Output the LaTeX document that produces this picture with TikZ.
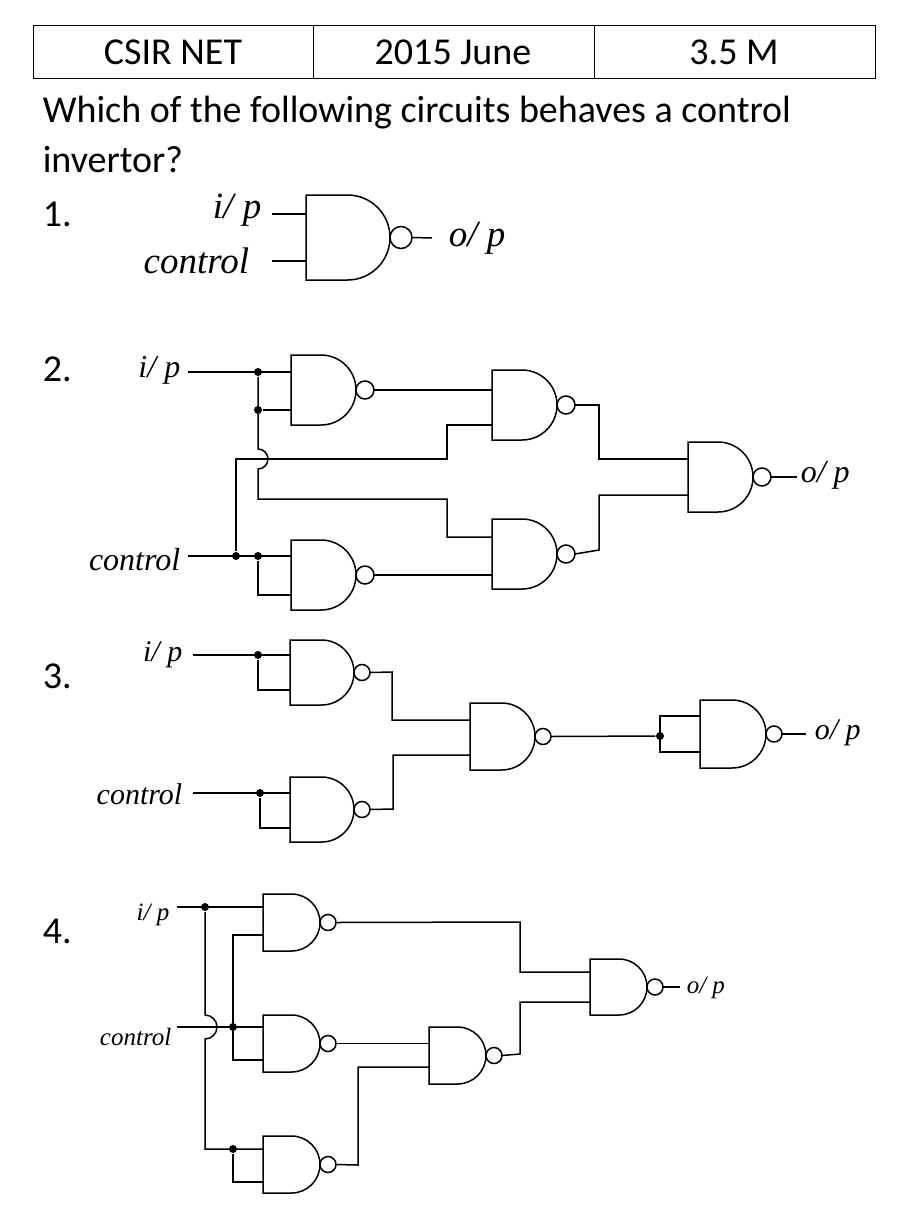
\documentclass[tikz,border=0pt]{standalone}
\usepackage{fontspec}
\setmainfont{Carlito}
\newfontfamily\lab{Liberation Serif}
\begin{document}
\begin{tikzpicture}[x=1pt,y=-1pt,line width=1.5pt,
  dot/.style={circle,fill=black,inner sep=0pt,minimum size=8pt},
  ttl/.style={font=\fontsize{38}{40}\selectfont},
  lbl/.style={font=\lab\itshape\fontsize{#1}{#1}\selectfont,inner sep=0pt},
  lbl/.default=26]
\useasboundingbox (0,0) rectangle (907,1210);
% gate: name, x, top, H, W(body), rb, in1y, in2y
\newcommand\mygate[8]{%
  \pgfmathsetmacro\gf{#5-#4/2}\pgfmathsetmacro\gr{#4/2}%
  \draw (#2+\gf,#3) -- (#2,#3) -- (#2,#3+#4) -- (#2+\gf,#3+#4) arc(90:-90:\gr) -- cycle;
  \draw (#2+#5+#6,#3+\gr) circle (#6);
  \coordinate (#1-a) at (#2,#7);
  \coordinate (#1-b) at (#2,#8);
  \coordinate (#1-o) at (#2+#5+2*#6,#3+\gr);}
% header table
\draw[line width=1pt] (33,25) rectangle (875,78) (313,25) -- (313,78) (594,25) -- (594,78);
\node[ttl] (h1) at (173,52) {CSIR NET};
\node[ttl] (h2) at (453,52) {2015 June};
\node[ttl] (h3) at (734,52) {3.5 M};
\node[ttl,anchor=base west,inner sep=0pt] (q1) at (42,122) {Which of the following circuits behaves a control};
\node[ttl,anchor=base west,inner sep=0pt] (q2) at (42,172) {invertor?};
\node[ttl,anchor=base west,inner sep=0pt] (n1) at (42,226) {1.};
\node[ttl,anchor=base west,inner sep=0pt] (n2) at (42,381) {2.};
\node[ttl,anchor=base west,inner sep=0pt] (n3) at (42,688) {3.};
\node[ttl,anchor=base west,inner sep=0pt] (n4) at (42,943) {4.};
% ---------- circuit 1
\mygate{g1}{306}{195}{85}{84}{11}{214}{261}
\node[lbl=37,anchor=east] (i1) at (262,210) {i/ p};
\node[lbl=37,anchor=east] (c1) at (250,261) {control};
\node[lbl=37,anchor=west] (o1) at (448,238) {o/ p};
\coordinate (i1e) at (272,214); \coordinate (c1e) at (272,261); \coordinate (o1s) at (432,238);
\draw (i1e) -- (g1-a); \draw (c1e) -- (g1-b); \draw (g1-o) -- (o1s);
% ---------- circuit 2
\mygate{A}{291}{355}{70}{65}{9}{372}{410}
\mygate{B}{492}{370}{70}{65}{9}{386}{425}
\mygate{C}{688}{442}{70}{65}{9}{459}{495}
\mygate{D}{492}{519}{70}{65}{9}{537}{571}
\mygate{E}{291}{540}{70}{65}{9}{556}{595}
\node[lbl=32,anchor=east] (i2) at (181,370) {i/ p};
\node[lbl=32,anchor=east] (c2) at (181,560) {control};
\node[lbl=32,anchor=west] (o2) at (800,475) {o/ p};
\coordinate (i2e) at (188,372); \coordinate (c2e) at (188,556);
\draw (i2e) -- (A-a);
\node[dot] (d21) at (258,372) {}; \node[dot] (d22) at (258,410) {};
\draw (d22) -- (A-b);
\draw (d21) -- (258,449) arc(-90:90:10) -- (258,499) -- (447,499) -- (447,537) -- (D-a);
\draw (A-o) -- (A-o -| B-a);
\draw (c2e) -- (E-a);
\node[dot] (d23) at (236,556) {}; \node[dot] (d24) at (258,556) {};
\draw (d23) -- (236,459) -- (447,459) -- (447,425) -- (B-b);
\draw (d24) -- (258,595) -- (E-b);
\draw (E-o) -- (E-o -| D-b);
\draw (B-o) -- (599,405) -- (599,459) -- (C-a);
\draw (D-o) -- (599,550) -- (599,495) -- (C-b);
\draw (C-o) -- (797,477);
% ---------- circuit 3
\mygate{F}{290}{640}{65}{64}{8}{655}{690}
\mygate{G}{290}{777}{65}{64}{8}{793}{828}
\mygate{H}{470}{703}{67}{65}{8}{720}{755}
\mygate{K}{700}{700}{68}{66}{8}{716}{752}
\node[lbl=30,anchor=east] (i3) at (183,655) {i/ p};
\node[lbl=30,anchor=east] (c3) at (183,794) {control};
\node[lbl=30,anchor=west] (o3) at (814,733) {o/ p};
\coordinate (i3e) at (193,655); \coordinate (c3e) at (193,793);
\draw (i3e) -- (F-a); \node[dot] (d31) at (258,655) {};
\draw (d31) -- (258,690) -- (F-b);
\draw (c3e) -- (G-a); \node[dot] (d32) at (260,793) {};
\draw (d32) -- (260,828) -- (G-b);
\draw (F-o) -- (392,672) -- (392,720) -- (H-a);
\draw (G-o) -- (393,809) -- (393,755) -- (H-b);
\node[dot] (d33) at (660,736) {};
\draw (H-o) -- (d33);
\draw (K-a) -- (660,716) -- (660,752) -- (K-b);
\draw (K-o) -- (806,734);
% ---------- circuit 4
\mygate{P}{263}{894}{57}{57}{8}{907}{935}
\mygate{Q}{263}{1015}{57}{57}{8}{1027}{1060}
\mygate{R}{263}{1136}{57}{57}{8}{1149}{1182}
\mygate{S}{429}{1027}{57}{57}{8}{1042}{1067}
\mygate{T}{590}{959}{56}{57}{8}{972}{1002}
\node[lbl=25,anchor=east] (i4) at (170,915) {i/ p};
\node[lbl=25,anchor=east] (c4) at (172,1037) {control};
\node[lbl=25,anchor=west] (o4) at (686,988) {o/ p};
\coordinate (i4e) at (177,907); \coordinate (c4e) at (177,1027);
\draw (i4e) -- (P-a); \node[dot] (d41) at (205,907) {};
\draw (d41) -- (205,1015) arc(-90:90:12) -- (205,1149) -- (R-a);
\draw (c4e) -- (Q-a); \node[dot] (d42) at (233,1027) {};
\draw (P-b) -- (233,935) -- (233,1060) -- (Q-b);
\node[dot] (d43) at (233,1149) {};
\draw (d43) -- (233,1182) -- (R-b);
\draw (P-o) -- (520,922) -- (520,972) -- (T-a);
\draw (Q-o) -- (Q-o -| S-a);
\draw (R-o) -- (358,1165) -- (358,1067) -- (S-b);
\draw (S-o) -- (520,1054) -- (520,1002) -- (T-b);
\draw (T-o) -- (680,987);
\end{tikzpicture}
\end{document}
